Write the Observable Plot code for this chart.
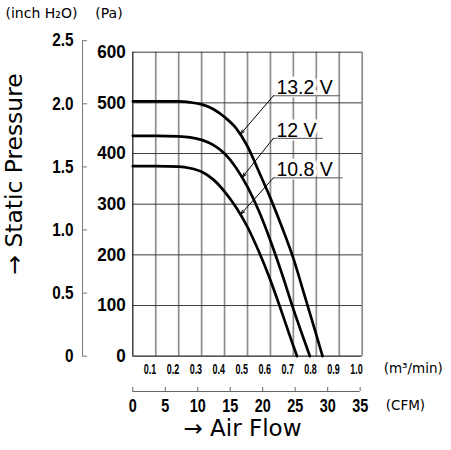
<!DOCTYPE html>
<html>
<head>
<meta charset="utf-8">
<script src="https://cdn.jsdelivr.net/npm/d3@7"></script>
<script src="https://cdn.jsdelivr.net/npm/@observablehq/plot@0.6"></script>
<style>
  body { margin: 0; background: #fff; }
  #chart svg { display: block; }
</style>
</head>
<body>
<div id="chart"></div>
<script>
// Fan P-Q curves at three supply voltages (flow in m³/min, static pressure in Pa)
const flow132 = [0, 0.1, 0.2, 0.25, 0.3, 0.35, 0.4, 0.45, 0.5, 0.55, 0.6, 0.65, 0.7, 0.75, 0.8, 0.827];
const pa132   = [503, 503, 503, 501, 497, 488, 472, 450, 414, 364, 312, 255, 193, 118, 42, 0];
const flow120 = [0, 0.1, 0.2, 0.25, 0.3, 0.35, 0.4, 0.45, 0.5, 0.55, 0.6, 0.65, 0.7, 0.75, 0.772];
const pa120   = [435, 435, 434, 432, 427, 417, 400, 372, 334, 286, 228, 163, 93, 28, 0];
const flow108 = [0, 0.1, 0.2, 0.25, 0.3, 0.35, 0.4, 0.45, 0.5, 0.55, 0.6, 0.65, 0.7, 0.716];
const pa108   = [375, 375, 374, 371, 364, 349, 325, 294, 255, 206, 150, 86, 20, 0];

// Curve callouts: text, underline span and leader tip
const labelText      = ["13.2 V", "12 V", "10.8 V"];
const labelFlowStart = [0.613, 0.613, 0.613];
const labelFlowEnd   = [0.905, 0.831, 0.917];
const labelPa        = [514, 430, 352];
const tipFlow        = [0.469, 0.477, 0.470];
const tipPa          = [438, 353, 280];

// Axis ticks
const paTicks   = [0, 100, 200, 300, 400, 500, 600];
const inchTicks = [0, 0.5, 1.0, 1.5, 2.0, 2.5];
const flowTicks = [0.1, 0.2, 0.3, 0.4, 0.5, 0.6, 0.7, 0.8, 0.9, 1.0];
const cfmTicks  = [0, 5, 10, 15, 20, 25, 30, 35];

const PA_PER_INCH = 249.089;      // 1 inch H2O in Pa
const M3MIN_PER_CFM = 0.0283168;  // 1 CFM in m³/min

const curves = [
  ...flow132.map((f, i) => ({flow: f, pa: pa132[i], volt: "13.2 V"})),
  ...flow120.map((f, i) => ({flow: f, pa: pa120[i], volt: "12 V"})),
  ...flow108.map((f, i) => ({flow: f, pa: pa108[i], volt: "10.8 V"}))
];

const NUM_FONT = "'Liberation Sans', Arial, sans-serif";
const LABEL_FONT = "'DejaVu Sans', sans-serif";
const CALLOUT_FONT = "'Liberation Sans', Arial, sans-serif";

const fmtInch = d => { const v = Math.round(d / PA_PER_INCH * 10) / 10; return v === 0 ? "0" : v.toFixed(1); };

const chart = Plot.plot({
  width: 451,
  height: 450,
  marginLeft: 132.3,
  marginRight: 89.3,
  marginTop: 51.7,
  marginBottom: 94.3,
  x: {domain: [0, 1]},
  y: {domain: [0, 600]},
  style: {background: "#fff", color: "#000", fontFamily: NUM_FONT, overflow: "visible"},
  marks: [
    // grid
    Plot.ruleX(flowTicks, {stroke: "#8e8e8e", strokeWidth: 1.7}),
    Plot.ruleY(paTicks.slice(1), {stroke: "#3c3c3c", strokeWidth: 1}),
    Plot.ruleX([0], {stroke: "#222", strokeWidth: 1.3}),
    Plot.ruleY([0], {stroke: "#222", strokeWidth: 1.3}),

    // Pa axis
    Plot.axisY(paTicks, {anchor: "left", tickSize: 0, tickPadding: 7, fontSize: 18, fontWeight: "bold", label: null, tickFormat: d => String(d)}),
    // inch H2O axis, offset to the left
    Plot.ruleX([0], {y1: 0, y2: 2.5 * PA_PER_INCH, dx: -50.3, stroke: "#777", strokeWidth: 1}),
    Plot.axisY(inchTicks.map(v => v * PA_PER_INCH), {anchor: "left", tickSize: 5, tickPadding: 9, dx: -45.3, stroke: "#777", fontSize: 18, fontWeight: "bold", label: null, tickFormat: fmtInch}),

    // m³/min axis: labels sit just left of their grid lines
    Plot.axisX(flowTicks, {anchor: "bottom", tickSize: 0, tickPadding: 7.5, fontSize: 14.5, fontWeight: "bold", textAnchor: "end", dx: 0.5, label: null, tickFormat: d => d.toFixed(1)}),
    // CFM axis below it
    Plot.ruleY([0], {x1: 0, x2: 35 * M3MIN_PER_CFM, dy: 35.3, stroke: "#666", strokeWidth: 1}),
    Plot.axisX(cfmTicks.map(c => c * M3MIN_PER_CFM), {anchor: "bottom", tickSize: 4, tickPadding: 7.5, dy: 31.3, stroke: "#666", fontSize: 18, fontWeight: "bold", label: null, tickFormat: d => String(Math.round(d / M3MIN_PER_CFM))}),

    // unit and axis titles
    Plot.text(["(inch H₂O)"], {frameAnchor: "top-left", dx: -127.3, dy: -38.7, textAnchor: "start", lineAnchor: "middle", fontSize: 14, fontFamily: LABEL_FONT}),
    Plot.text(["(Pa)"], {frameAnchor: "top-left", dx: -37.5, dy: -38.7, textAnchor: "start", lineAnchor: "middle", fontSize: 14, fontFamily: LABEL_FONT}),
    Plot.text(["(m³/min)"], {frameAnchor: "bottom-right", dx: 21.5, dy: 12.5, textAnchor: "start", lineAnchor: "middle", fontSize: 13.5, fontFamily: LABEL_FONT}),
    Plot.text(["(CFM)"], {frameAnchor: "bottom-right", dx: 23.5, dy: 49.5, textAnchor: "start", lineAnchor: "middle", fontSize: 13.5, fontFamily: LABEL_FONT}),
    Plot.text(["→ Air Flow"], {frameAnchor: "bottom", dx: -5, dy: 72.5, textAnchor: "middle", lineAnchor: "middle", fontSize: 23, fontFamily: LABEL_FONT}),
    Plot.text(["→ Static Pressure"], {frameAnchor: "left", dx: -118, dy: -30.2, rotate: -90, textAnchor: "middle", lineAnchor: "middle", fontSize: 23.4, fontFamily: LABEL_FONT}),

    // callouts
    Plot.text(labelText, {x: labelFlowStart, y: labelPa, text: labelText, textAnchor: "start", lineAnchor: "bottom", dx: 3, dy: -1.5, fontSize: 19.5, fontFamily: CALLOUT_FONT, fill: "#000", stroke: "#fff", strokeWidth: 7, paintOrder: "stroke"}),
    Plot.ruleY(labelPa, {x1: labelFlowStart, x2: labelFlowEnd, stroke: "#555", strokeWidth: 1}),
    Plot.arrow(labelText, {x1: labelFlowStart, y1: labelPa, x2: tipFlow, y2: tipPa, stroke: "#000", strokeWidth: 1, headLength: 7, headAngle: 34}),

    // P-Q curves
    Plot.line(curves, {x: "flow", y: "pa", z: "volt", curve: "monotone-x", stroke: "#000", strokeWidth: 2.7})
  ]
});

document.getElementById("chart").appendChild(chart);

// Condense tick numerals horizontally, keeping each one on its own anchor point
function condense(axisLabel, index, factor) {
  d3.select(chart)
    .selectAll(`g[aria-label="${axisLabel}"]`)
    .filter((d, i) => i === index)
    .selectAll("text")
    .each(function () {
      const t = this.getAttribute("transform");
      if (t) {
        this.setAttribute("transform", `${t} scale(${factor},1)`);
      } else {
        const x = this.getAttribute("x") || 0, y = this.getAttribute("y") || 0;
        this.setAttribute("x", 0);
        this.setAttribute("y", 0);
        this.setAttribute("transform", `translate(${x},${y}) scale(${factor},1)`);
      }
    });
}
condense("y-axis tick label", 0, 0.95);  // Pa
condense("y-axis tick label", 1, 0.85);  // inch H2O
condense("x-axis tick label", 0, 0.62);  // m³/min
condense("x-axis tick label", 1, 0.8);   // CFM
</script>
</body>
</html>
